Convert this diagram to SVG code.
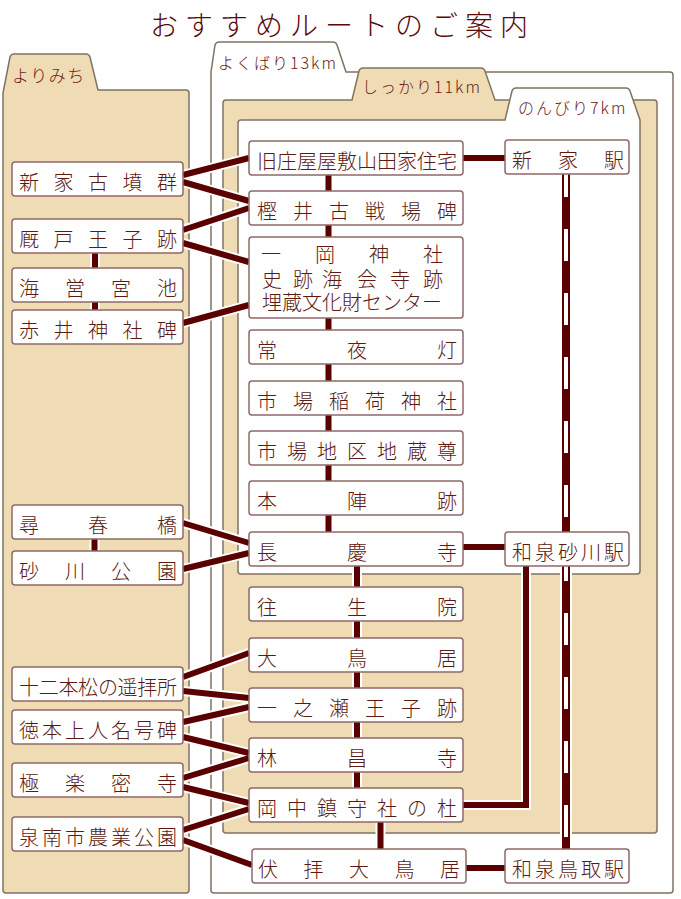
<svg xmlns="http://www.w3.org/2000/svg" xmlns:xlink="http://www.w3.org/1999/xlink" width="681" height="899" viewBox="0 0 681 899">
<defs>
<style>
.wheat{fill:#f0dcb4;stroke:#7f7362;stroke-width:1.5}
.white{fill:#ffffff;stroke:#7f7362;stroke-width:1.5}
.box{fill:#ffffff;stroke:#8e6a6a;stroke-width:1.5}
.t{font-family:"Noto Sans CJK JP","Noto Sans",sans-serif;font-size:20px;font-weight:300;fill:#5c1a12}
.tab{font-family:"Noto Sans CJK JP","Noto Sans",sans-serif;font-size:16px;font-weight:300;fill:#6a1a14;letter-spacing:2px}
.title{font-family:"Noto Sans CJK JP","Noto Sans",sans-serif;font-size:28px;font-weight:300;fill:#5a0a0a;letter-spacing:7px}
.halo{fill:none;stroke:#ffffff;stroke-width:10}
.line{fill:none;stroke:#5a0000;stroke-width:6}
.rail-halo{fill:none;stroke:#ffffff;stroke-width:12}
.rail{fill:none;stroke:#5a0000;stroke-width:8}
.rail-dash{fill:none;stroke:#ffffff;stroke-width:4;stroke-dasharray:32 32}
</style>
<g id="conn-paths">
<path d="M183,175 L249,158"/>
<path d="M183,182 L249,201"/>
<path d="M183,230 L249,208"/>
<path d="M183,243 L249,262"/>
<path d="M183,323 L249,305"/>
<path d="M183,523 L249,543"/>
<path d="M183,569 L249,553"/>
<path d="M183,677 L249,653"/>
<path d="M183,691 L249,698"/>
<path d="M183,722 L249,707"/>
<path d="M183,737 L249,753"/>
<path d="M183,778 L249,758"/>
<path d="M183,787 L249,803"/>
<path d="M183,830 L249,809"/>
<path d="M183,840 L252,865"/>
<path d="M95,252 L95,269 M95,301 L95,311"/>
<path d="M94.5,538 L94.5,552"/>
<path d="M328.5,174 L328.5,192 M328.5,224 L328.5,238 M328.5,317 L328.5,331 M328.5,363 L328.5,382 M328.5,414 L328.5,432 M328.5,464 L328.5,482 M328.5,514 L328.5,533"/>
<path d="M357,565 L357,588 M357,620 L357,639 M357,671 L357,689 M357,721 L357,739 M357,771 L357,789"/>
<path d="M380.5,821 L380.5,850"/>
<path d="M462,158 L506,158"/>
<path d="M462,547 L506,547"/>
<path d="M465,868 L506,868"/>
<path d="M526,565 L526,805 L462,805"/>
</g>
</defs>

<text class="title" x="150" y="36">おすすめルートのご案内</text>

<g id="panels">
<path id="panel-yorimichi" class="wheat" d="M3,93 L10,57 Q11,54 14,54 L86,54 Q89,54 90,57 L98,90 L186,90 Q189,90 189,93 L189,890 Q189,893 186,893 L6,893 Q3,893 3,890 Z"/>
<path id="panel-yokubari" class="white" d="M211,72 L215,45 Q216,42 219,42 L333,42 Q336,42 337,45 L346,72 L670,72 Q673,72 673,75 L673,890 Q673,893 670,893 L214,893 Q211,893 211,890 Z"/>
<path id="panel-shikkari" class="wheat" d="M223,103 Q223,100 226,100 L352,100 L359,71 Q360,68 363,68 L481,68 Q484,68 485,71 L495,100 L654,100 Q657,100 657,103 L657,830 Q657,833 654,833 L226,833 Q223,833 223,830 Z"/>
<path id="panel-nonbiri" class="white" d="M238,123 Q238,120 241,120 L505,120 L512,91 Q513,88 516,88 L626,88 Q629,88 630,91 L640,120 L640,571 Q640,574 637,574 L241,574 Q238,574 238,571 Z"/>
<text class="tab" x="12" y="82" style="font-size:17px;letter-spacing:1.5px">よりみち</text>
<text class="tab" x="218" y="69">よくばり13km</text>
<text class="tab" x="362" y="93">しっかり11km</text>
<text class="tab" x="518" y="114">のんびり7km</text>
</g>

<g id="connectors">
<use xlink:href="#conn-paths" class="halo"/>
<path class="rail-halo" d="M566,165 L566,850"/>
<use xlink:href="#conn-paths" class="line"/>
<path class="rail" d="M566,165 L566,850"/>
<path class="rail-dash" d="M566,165 L566,850"/>
</g>

<g id="nodes">
<g id="n-shinge-kofun"><rect class="box" x="12" y="162" width="171" height="34" rx="3"/><text class="t" x="19 53.5 88 122.5 157" y="190">新家古墳群</text></g>
<g id="n-umayado"><rect class="box" x="12" y="219" width="171" height="34" rx="3"/><text class="t" x="19 53.5 88 122.5 157" y="247">厩戸王子跡</text></g>
<g id="n-kaieigu"><rect class="box" x="12" y="268" width="171" height="34" rx="3"/><text class="t" x="19 65 111 157" y="296">海営宮池</text></g>
<g id="n-akai"><rect class="box" x="12" y="310" width="171" height="34" rx="3"/><text class="t" x="19 53.5 88 122.5 157" y="338">赤井神社碑</text></g>
<g id="n-jinshun"><rect class="box" x="12" y="505" width="171" height="34" rx="3"/><text class="t" x="19 88 157" y="533">尋春橋</text></g>
<g id="n-sunagawa-koen"><rect class="box" x="12" y="551" width="171" height="34" rx="3"/><text class="t" x="19 65 111 157" y="579">砂川公園</text></g>
<g id="n-juni"><rect class="box" x="12" y="667" width="171" height="34" rx="3"/><text class="t" x="19 38.7 58.4 78.1 97.9 117.6 137.3 157" y="695">十二本松の遥拝所</text></g>
<g id="n-tokuhon"><rect class="box" x="12" y="710" width="171" height="34" rx="3"/><text class="t" x="19 42 65 88 111 134 157" y="738">徳本上人名号碑</text></g>
<g id="n-gokuraku"><rect class="box" x="12" y="763" width="171" height="34" rx="3"/><text class="t" x="19 65 111 157" y="791">極楽密寺</text></g>
<g id="n-sennan"><rect class="box" x="12" y="817" width="171" height="34" rx="3"/><text class="t" x="19 42 65 88 111 134 157" y="845">泉南市農業公園</text></g>

<g id="n-yamada"><rect class="box" x="249" y="141" width="214" height="34" rx="3"/><text class="t" x="257 277 297 317 337 357 377 397 417 437" y="169">旧庄屋屋敷山田家住宅</text></g>
<g id="n-kashii"><rect class="box" x="249" y="191" width="214" height="34" rx="3"/><text class="t" x="257 293 329 365 401 437" y="219">樫井古戦場碑</text></g>
<g id="n-ichioka"><rect class="box" x="249" y="237" width="214" height="81" rx="3"/><text class="t" x="261 315 369 423" y="262">一岡神社</text><text class="t" x="262 293 322 357 390 423" y="286.5">史跡海会寺跡</text><text class="t" x="262 282 302 322 342 362 382 402 422" y="310">埋蔵文化財センター</text></g>
<g id="n-joyato"><rect class="box" x="249" y="330" width="214" height="34" rx="3"/><text class="t" x="257 347 437" y="358">常夜灯</text></g>
<g id="n-ichiba-inari"><rect class="box" x="249" y="381" width="214" height="34" rx="3"/><text class="t" x="257 293 329 365 401 437" y="409">市場稲荷神社</text></g>
<g id="n-ichiba-jizo"><rect class="box" x="249" y="431" width="214" height="34" rx="3"/><text class="t" x="257 287 317 347 377 407 437" y="459">市場地区地蔵尊</text></g>
<g id="n-honjin"><rect class="box" x="249" y="481" width="214" height="34" rx="3"/><text class="t" x="257 347 437" y="509">本陣跡</text></g>
<g id="n-chokei"><rect class="box" x="249" y="532" width="214" height="34" rx="3"/><text class="t" x="257 347 437" y="560">長慶寺</text></g>
<g id="n-ojoin"><rect class="box" x="249" y="587" width="214" height="34" rx="3"/><text class="t" x="257 347 437" y="615">往生院</text></g>
<g id="n-otorii"><rect class="box" x="249" y="638" width="214" height="34" rx="3"/><text class="t" x="257 347 437" y="666">大鳥居</text></g>
<g id="n-ichinose"><rect class="box" x="249" y="688" width="214" height="34" rx="3"/><text class="t" x="257 293 329 365 401 437" y="716">一之瀬王子跡</text></g>
<g id="n-rinsho"><rect class="box" x="249" y="738" width="214" height="34" rx="3"/><text class="t" x="257 347 437" y="766">林昌寺</text></g>
<g id="n-okanaka"><rect class="box" x="249" y="788" width="214" height="34" rx="3"/><text class="t" x="257 287 317 347 377 407 437" y="816">岡中鎮守社の杜</text></g>
<g id="n-fushiogami"><rect class="box" x="252" y="849" width="214" height="34" rx="3"/><text class="t" x="258 303.5 349 394.5 440" y="877">伏拝大鳥居</text></g>

<g id="st-shinge"><rect class="box" x="505" y="140" width="124" height="34" rx="3"/><text class="t" x="512 558 604" y="168">新家駅</text></g>
<g id="st-sunagawa"><rect class="box" x="505" y="532" width="124" height="34" rx="3"/><text class="t" x="512 535 558 581 604" y="560">和泉砂川駅</text></g>
<g id="st-tottori"><rect class="box" x="505" y="849" width="124" height="34" rx="3"/><text class="t" x="512 535 558 581 604" y="877">和泉鳥取駅</text></g>
</g>
</svg>
